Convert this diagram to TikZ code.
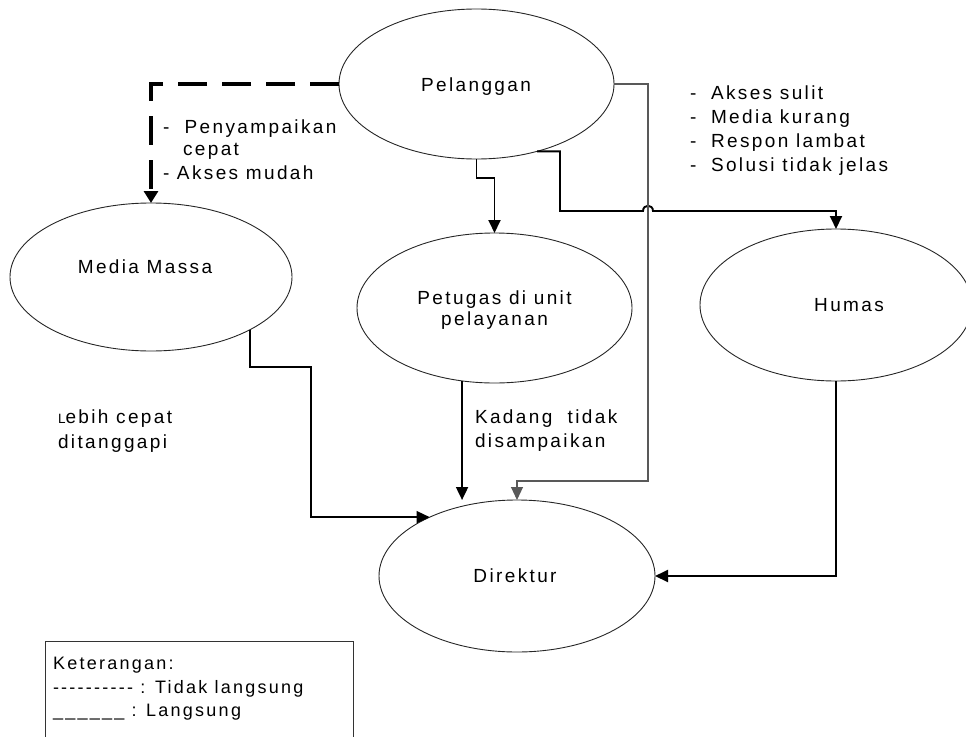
\documentclass[tikz,border=0pt]{standalone}
\usepackage{fontspec}
\setmainfont{Liberation Sans}[LetterSpace=12.5, Ligatures=TeXOff]
\usetikzlibrary{arrows.meta,shapes.geometric}
\begin{document}
\begin{tikzpicture}[x=1pt,y=-1pt,
  font=\fontsize{19}{21}\selectfont,
  ell/.style={draw=black!85, line width=0.9pt, ellipse, inner sep=0pt, outer sep=0pt},
  txt/.style={inner sep=0pt, outer sep=0pt, anchor=base west},
  ctxt/.style={inner sep=0pt, outer sep=0pt, anchor=base},
  legtxt/.style={txt, font=\fontsize{18}{21}\selectfont},
  tip/.style={-{Triangle[length=13pt,width=12pt]}},
  bigtip/.style={-{Triangle[length=12pt,width=14pt]}},
  direct/.style={draw=black, line width=1.9pt, tip},
  medium/.style={draw=black, line width=1.5pt, tip},
  indirect/.style={draw=black, line width=4pt, dash pattern=on 29pt off 15pt, bigtip},
  faint/.style={draw=black!65, line width=1.1pt, tip}
]
\useasboundingbox (0,0) rectangle (966,736);

% ellipses
\node[ell, minimum width=275pt, minimum height=150pt] (pel) at (476.5,84) {};
\node[ell, minimum width=282pt, minimum height=148pt] (media) at (151,277) {};
\node[ell, minimum width=275pt, minimum height=150pt] (pet) at (494.5,308) {};
\node[ell, minimum width=272pt, minimum height=152pt] (hum) at (836,305) {};
\node[ell, minimum width=276pt, minimum height=152pt] (dir) at (517,576) {};

% ellipse texts
\node[ctxt] (pelT) at (476,91) {Pelanggan};
\node[ctxt] (mediaT) at (145,273) {Media Massa};
\node[ctxt] (petT1) at (494.5,304) {Petugas di unit};
\node[ctxt] (petT2) at (494.5,325) {pelayanan};
\node[ctxt] (humT) at (849,311) {Humas};
\node[ctxt] (dirT) at (515,582) {Direktur};

% connector waypoints
\coordinate (hb) at (560,211);
\coordinate (gv) at (648,481);
\coordinate (mb) at (311,367);

% connectors
\draw[indirect] (pel.west) -| (media.north);
\draw[direct] (pel.south) -- ++(0,19) -| (pet.north);
\draw[direct] (pel.-48) -| (hb) -- (643,211) .. controls (643,204) and (653,204) .. (653,211) -| (hum.north);
\draw[faint] (pel.east) -| (gv) -| (dir.north);
\draw[medium] (media.-28) |- (mb) |- (dir.146);
\draw[direct] (pet.-114) -- (pet.-114 |- dir.north);
\draw[direct] (hum.south) |- (dir.east);

% annotations
\node[txt] (a1) at (163,133) {-\ \ Penyampaikan};
\node[txt] (a2) at (183,155) {cepat};
\node[txt] (a3) at (163,179) {- Akses mudah};

\node[txt] (r1) at (690,99) {\makebox[21pt][l]{-}Akses sulit};
\node[txt] (r2) at (690,123) {\makebox[21pt][l]{-}Media kurang};
\node[txt] (r3) at (690,147) {\makebox[21pt][l]{-}Respon lambat};
\node[txt] (r4) at (690,171) {\makebox[21pt][l]{-}Solusi tidak jelas};

\node[txt] (b1) at (58,423) {{\fontsize{13.5}{13.5}\selectfont L}ebih cepat};
\node[txt] (b2) at (58,448) {ditanggapi};

\node[txt] (k1) at (475,423) {Kadang\ \ tidak};
\node[txt] (k2) at (475,447) {disampaikan};

% legend
\node[draw=black!80, line width=0.9pt, anchor=north west, minimum width=308pt, minimum height=98pt, inner sep=0pt] (legend) at (45,641) {};
\node[legtxt] (g1) at (53,669) {Keterangan:};
\node[legtxt] (g2) at (53,693) {---------- : Tidak langsung};
\node[legtxt] (g3) at (53,716) {\_\_\_\_\_\_ : Langsung};
\end{tikzpicture}
\end{document}
